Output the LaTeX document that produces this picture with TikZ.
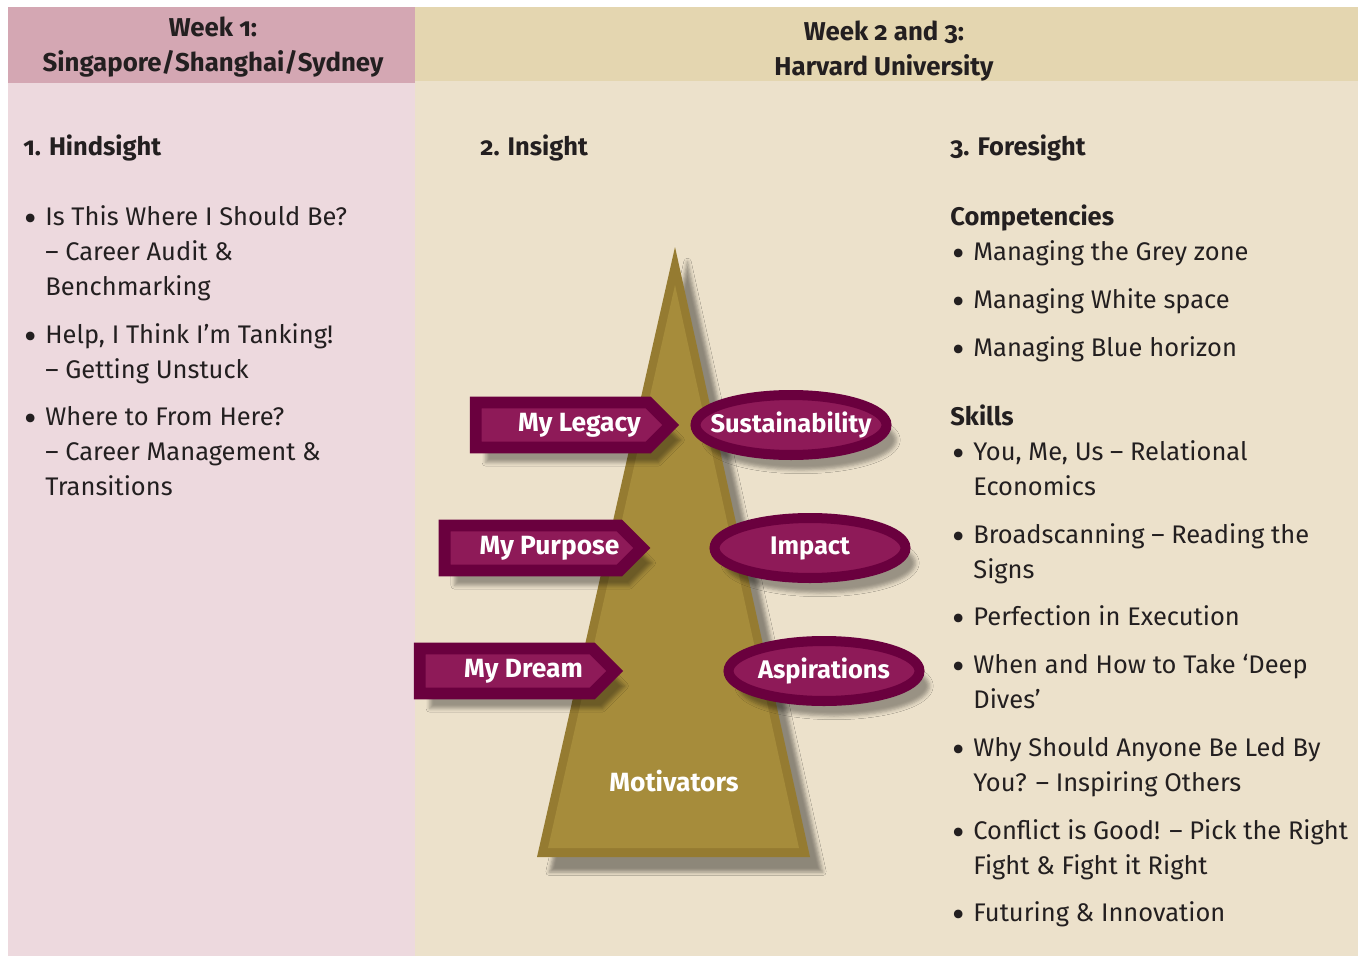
\documentclass[tikz,border=0pt]{standalone}
\usepackage{fontspec}
\usepackage{graphicx}
\setmainfont{Fira Sans}[Numbers=OldStyle]
\usetikzlibrary{shapes.geometric,shapes.symbols,shadows.blur}
\definecolor{rosehead}{HTML}{D4A7B3}
\definecolor{rosebody}{HTML}{EDD9DE}
\definecolor{sandhead}{HTML}{E4D6B0}
\definecolor{sandbody}{HTML}{ECE1CB}
\definecolor{olive}{HTML}{A68C3B}
\definecolor{olivedark}{HTML}{957B31}
\definecolor{plum}{HTML}{8E1A58}
\definecolor{plumdark}{HTML}{6A003E}
\definecolor{ink}{HTML}{231F20}
\tikzset{
  head/.style={align=center, inner sep=0pt, text=ink, font=\bfseries\fontsize{14.7}{19.9}\selectfont},
  title/.style={anchor=base west, inner sep=0pt, text=ink, font=\bfseries\fontsize{14.5}{19.9}\selectfont},
  txt/.style={anchor=base west, align=left, inner sep=0pt, text=ink, font=\fontsize{14.5}{19.9}\selectfont},
  tab/.style={signal, signal to=east, signal pointer angle=90, fill=plum, draw=plumdark, line width=6.8pt, line join=miter,
    minimum width=3.9cm, minimum height=0.9cm, inner sep=0pt, text=white, font=\bfseries\fontsize{15}{18}\selectfont,
    execute at begin node={\hspace{0.7cm}},
    blur shadow={shadow xshift=0.2cm, shadow yshift=-0.3cm, shadow opacity=35}},
  oval/.style={ellipse, fill=plum, draw=plumdark, line width=5.7pt, minimum width=3.82cm, minimum height=1.2cm, inner sep=0pt,
    blur shadow={shadow xshift=0.2cm, shadow yshift=-0.3cm, shadow opacity=35}},
  ovaltext/.style={text=white, inner sep=0pt, font=\bfseries\fontsize{14.5}{18}\selectfont}
}
\newcommand{\bul}{\llap{\raisebox{-0.5ex}{\scalebox{1.5}{\textbullet}}\hskip 5pt}}
\begin{document}
\begin{tikzpicture}[x=0.02cm, y=-0.02cm]
  \useasboundingbox (0,0) rectangle (1361,956);
  % columns
  \fill[rosebody] (8,7) rectangle (415,956);
  \fill[rosehead] (8,7) rectangle (415,83);
  \fill[sandbody] (415,7) rectangle (1358,956);
  \fill[sandhead] (415,7) rectangle (1358,81);
  \node[head] (weekone) at (213,47) {Week 1:\\Singapore/Shanghai/Sydney};
  \node[head] (weektwo) at (884,51) {Week 2 and 3:\\Harvard University};
  % (base of a text with lines = base of its last line)
  \node[title] (hind) at (23,156) {1. Hindsight};
  \node[txt] (hinda) at (45,295) {\bul Is This Where I Should Be?\\– Career Audit \&\\Benchmarking};
  \node[txt] (hindb) at (45,378) {\bul Help, I Think I’m Tanking!\\– Getting Unstuck};
  \node[txt] (hindc) at (45,495) {\bul Where to From Here?\\– Career Management \&\\Transitions};
  %
  \node[title] (ins) at (480,156) {2. Insight};
  %
  \node[title] (fore) at (950,156) {3. Foresight};
  \node[title] (comp) at (950,225) {Competencies};
  \node[txt] (compa) at (973,260) {\bul Managing the Grey zone};
  \node[txt] (compb) at (973,308) {\bul Managing White space};
  \node[txt] (compc) at (973,356) {\bul Managing Blue horizon};
  \node[title] (skill) at (950,425) {Skills};
  \node[txt] (skilla) at (973,495) {\bul You, Me, Us – Relational\\Economics};
  \node[txt] (skillb) at (973,578) {\bul Broadscanning – Reading the\\Signs};
  \node[txt] (skillc) at (973,625) {\bul Perfection in Execution};
  \node[txt] (skilld) at (973,708) {\bul When and How to Take ‘Deep\\Dives’};
  \node[txt] (skille) at (973,791) {\bul Why Should Anyone Be Led By\\You? – Inspiring Others};
  \node[txt] (skillf) at (973,874) {\bul Conflict is Good! – Pick the Right\\Fight \& Fight it Right};
  \node[txt] (skillg) at (973,921) {\bul Futuring \& Innovation};
  % pyramid
  \coordinate (apex) at (675,247);
  \coordinate (left) at (537,857);
  \coordinate (right) at (810,857);
  \fill[olivedark, blur shadow={shadow xshift=0.25cm, shadow yshift=-0.3cm, shadow opacity=40}] (apex) -- (right) -- (left) -- cycle;
  \fill[olive] (675,285) -- (799,848) -- (548,848) -- cycle;
  \node[text=white, font=\bfseries\fontsize{15}{18}\selectfont] (motiv) at (674,781) {Motivators};
  %
  \node[tab] (legacy) at (562,425) {My Legacy};
  \node[tab] (purpose) at (532,548) {My Purpose};
  \node[tab] (dream) at (506,671) {My Dream};
  \node[oval, label={[ovaltext]center:Sustainability}] (sustain) at (791,425) {};
  \node[oval, label={[ovaltext]center:Impact}] (impact) at (810,548) {};
  \node[oval, label={[ovaltext]center:Aspirations}] (aspire) at (824,671) {};
\end{tikzpicture}
\end{document}
